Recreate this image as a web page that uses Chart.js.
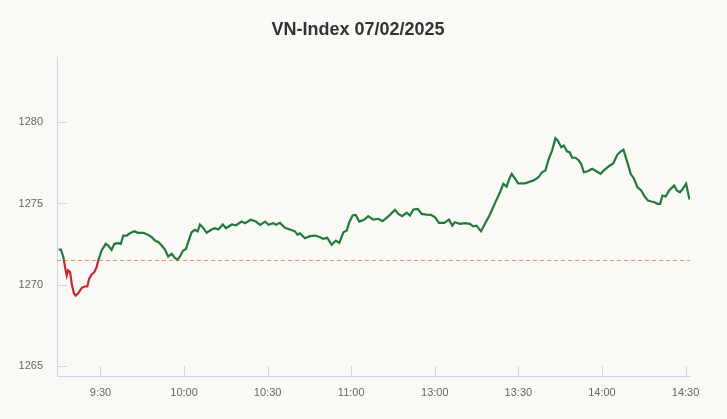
<!DOCTYPE html>
<html>
<head>
<meta charset="utf-8">
<title>VN-Index 07/02/2025</title>
<script src="https://cdn.jsdelivr.net/npm/chart.js@4.4.1/dist/chart.umd.min.js"></script>
<style>
  html, body { margin: 0; padding: 0; background: #faf9f6; }
  #wrap { width: 727px; height: 419px; }
</style>
</head>
<body>
<div id="wrap"><canvas id="vnChart" width="727" height="419"></canvas></div>
<script>
'use strict';

var titleText = 'VN-Index 07/02/2025';

// trading minutes counted from 9:15 (lunch break removed)
var minutes = [
  0, 0.8, 1.7, 2.3, 2.9, 3.4, 4.1, 4.7, 5.5, 6.1, 7.0, 8.3, 9.4, 10.3, 10.9, 11.8, 12.8, 13.6, 14.2,
  15.4, 16.9, 17.8, 19.0, 20.0, 21.4, 22.3, 23.2, 24.4, 25.6, 27.1, 28.4, 30.4, 32.2, 33.4, 34.6,
  35.8, 37.0, 38.2, 39.3, 40.6, 41.7, 42.7, 43.5, 44.7, 45.7, 46.5, 47.7, 48.9, 49.9, 50.7, 51.9,
  53.1, 54.9, 56.1, 57.3, 58.9, 60.1, 62.1, 63.6, 65.7, 66.9, 68.9, 70.8, 72.3, 74.1, 75.3, 77.0,
  78.0, 79.4, 81.2, 83.0, 84.8, 85.7, 86.6, 88.4, 90.2, 92.0, 93.8, 94.9, 96.4, 98.0, 99.5, 100.7,
  102.2, 103.4, 104.3, 105.5, 106.6, 107.9, 109.6, 111.1, 112.9, 114.7, 116.2, 117.7, 118.9, 120.7,
  121.9, 123.3, 124.9, 126.1, 127.3, 128.9, 130.3, 132.1, 133.6, 135.1, 136.5, 138.4, 140.1, 141.3,
  142.2, 144.0, 145.8, 147.6, 148.8, 150.0, 151.6, 153.0, 154.8, 156.6, 158.4, 159.6, 160.8, 161.6,
  162.6, 163.8, 164.9, 166.2, 167.4, 168.6, 170.4, 171.0, 172.2, 173.5, 174.7, 175.9, 177.1, 178.3,
  179.1, 180.4, 181.3, 182.5, 183.4, 184.3, 185.5, 186.7, 187.5, 188.5, 189.9, 191.5, 193.0, 194.5,
  195.9, 197.5, 199.1, 200.5, 201.7, 202.7, 204.1, 205.3, 206.5, 207.7, 209.1, 210.3, 211.5, 212.7,
  213.9, 214.9, 215.9, 216.7, 217.9, 219.1, 220.9, 221.9, 223.0, 224.0, 225.2, 226.4
];

var indexValues = [
  1272.17, 1272.17, 1271.70, 1271.08, 1270.57, 1270.88, 1270.78, 1270.06, 1269.45, 1269.34, 1269.48,
  1269.82, 1269.90, 1269.90, 1270.37, 1270.63, 1270.78, 1271.08, 1271.49,
  1272.11, 1272.52, 1272.42, 1272.15, 1272.52, 1272.56, 1272.52, 1273.03, 1273.03, 1273.17, 1273.29,
  1273.20, 1273.20, 1273.07, 1272.93, 1272.72,
  1272.62, 1272.42, 1272.15, 1271.74, 1271.91, 1271.66, 1271.54, 1271.74, 1272.11, 1272.21, 1272.62,
  1273.23, 1273.38, 1273.28, 1273.71, 1273.50,
  1273.20, 1273.40, 1273.48, 1273.40, 1273.71, 1273.48, 1273.71, 1273.66, 1273.89, 1273.79, 1274.00,
  1273.89, 1273.69, 1273.89, 1273.69, 1273.79,
  1273.69, 1273.81, 1273.50, 1273.40, 1273.29, 1273.09, 1273.17, 1272.86, 1272.99, 1273.03, 1272.93,
  1272.83, 1272.89, 1272.46, 1272.72, 1272.58,
  1273.23, 1273.34, 1273.85, 1274.26, 1274.30, 1273.89, 1274.00, 1274.22, 1274.01, 1274.06, 1273.91,
  1274.12, 1274.30, 1274.61,
  1274.36, 1274.22, 1274.43, 1274.26, 1274.63, 1274.67, 1274.36, 1274.32, 1274.30, 1274.15, 1273.81,
  1273.81, 1274.01, 1273.64,
  1273.85, 1273.75, 1273.79, 1273.75, 1273.60, 1273.64, 1273.29, 1273.75, 1274.32, 1275.02, 1275.69,
  1276.21, 1276.04, 1276.45,
  1276.82, 1276.52, 1276.24, 1276.24, 1276.24, 1276.31, 1276.41, 1276.47, 1276.61, 1276.92, 1277.03,
  1277.74, 1278.25, 1279.01,
  1278.87, 1278.46, 1278.56, 1278.19, 1278.15, 1277.81, 1277.81, 1277.64, 1277.44, 1276.92, 1276.98,
  1277.13, 1276.98, 1276.82,
  1277.07, 1277.29, 1277.47, 1277.99, 1278.19, 1278.30, 1277.54, 1276.82, 1276.52, 1276.00, 1275.80,
  1275.43, 1275.18, 1275.12,
  1275.08, 1274.98, 1274.98, 1275.49, 1275.43, 1275.80, 1276.10, 1275.80, 1275.69, 1275.90, 1276.21,
  1275.25
];

var referenceValue = 1271.5;

var tickMinutes = [15, 45, 75, 105, 135, 165, 195, 225];
var tickLabels = ['9:30', '10:00', '10:30', '11:00', '13:00', '13:30', '14:00', '14:30'];
var yTicks = [1265, 1270, 1275, 1280];

var upColor = '#1f7a3c';
var downColor = '#c8262c';
var refColor = '#d9a150';
var axisColor = '#ccd6eb';

var points = minutes.map(function(m, i) {
  return { x: m, y: indexValues[i] };
});

function lineColor(context) {
  var chart = context.chart;
  var area = chart.chartArea;
  if (!area) {
    return upColor;
  }
  var refY = chart.scales.y.getPixelForValue(referenceValue);
  var stop = (refY - area.top) / (area.bottom - area.top);
  stop = Math.min(Math.max(stop, 0), 1);
  var g = chart.ctx.createLinearGradient(0, area.top, 0, area.bottom);
  g.addColorStop(0, upColor);
  g.addColorStop(stop, upColor);
  g.addColorStop(stop, downColor);
  g.addColorStop(1, downColor);
  return g;
}

// background, title and the short inward tick marks
var decorPlugin = {
  id: 'decor',
  beforeDraw: function(chart) {
    var c = chart.ctx;
    c.save();
    c.fillStyle = '#faf9f6';
    c.fillRect(0, 0, chart.width, chart.height);
    c.restore();
  },
  afterDraw: function(chart) {
    var c = chart.ctx;
    var area = chart.chartArea;
    var xs = chart.scales.x;
    var ys = chart.scales.y;
    c.save();
    c.strokeStyle = axisColor;
    c.lineWidth = 1;
    c.beginPath();
    yTicks.forEach(function(v) {
      var py = Math.round(ys.getPixelForValue(v)) + 0.5;
      c.moveTo(area.left, py);
      c.lineTo(area.left + 10, py);
    });
    tickMinutes.forEach(function(m) {
      var px = Math.round(xs.getPixelForValue(m)) + 0.5;
      c.moveTo(px, area.bottom);
      c.lineTo(px, area.bottom - 10);
    });
    c.stroke();

    c.fillStyle = '#333333';
    c.font = 'bold 18px "Liberation Sans", Arial, sans-serif';
    c.textAlign = 'center';
    c.textBaseline = 'middle';
    c.fillText(titleText, 358, 30);
    c.restore();
  }
};

var ctx = document.getElementById('vnChart').getContext('2d');

var chart = new Chart(ctx, {
  type: 'line',
  data: {
    datasets: [
      {
        label: 'VN-Index',
        data: points,
        borderColor: lineColor,
        borderWidth: 2.2,
        pointRadius: 0,
        tension: 0,
        fill: false
      },
      {
        label: 'Tham chiếu',
        data: [{ x: -0.6, y: referenceValue }, { x: 226.6, y: referenceValue }],
        borderColor: refColor,
        borderWidth: 1,
        borderDash: [4, 3],
        pointRadius: 0,
        fill: false
      }
    ]
  },
  options: {
    responsive: false,
    animation: false,
    layout: { padding: { top: 57, right: 37, left: 0, bottom: 0 } },
    plugins: {
      legend: { display: false },
      title: { display: false },
      tooltip: { enabled: false }
    },
    scales: {
      x: {
        type: 'linear',
        min: -0.6,
        max: 226.6,
        afterBuildTicks: function(scale) {
          scale.ticks = tickMinutes.map(function(m) { return { value: m }; });
        },
        afterFit: function(scale) {
          scale.height = 43;
        },
        ticks: {
          autoSkip: false,
          maxRotation: 0,
          padding: 10,
          color: '#666666',
          font: { family: '"Liberation Sans", Arial, sans-serif', size: 11 },
          callback: function(value) {
            var i = tickMinutes.indexOf(value);
            return i >= 0 ? tickLabels[i] : '';
          }
        },
        grid: { display: false, drawTicks: false },
        border: { display: true, color: axisColor, width: 1 }
      },
      y: {
        min: 1264.4,
        max: 1284,
        afterBuildTicks: function(scale) {
          scale.ticks = yTicks.map(function(v) { return { value: v }; });
        },
        afterFit: function(scale) {
          scale.width = 57;
        },
        ticks: {
          padding: 14,
          color: '#666666',
          font: { family: '"Liberation Sans", Arial, sans-serif', size: 11 },
          callback: function(value) {
            return String(value);
          }
        },
        grid: { display: false, drawTicks: false },
        border: { display: true, color: axisColor, width: 1 }
      }
    }
  },
  plugins: [decorPlugin]
});
</script>
</body>
</html>
